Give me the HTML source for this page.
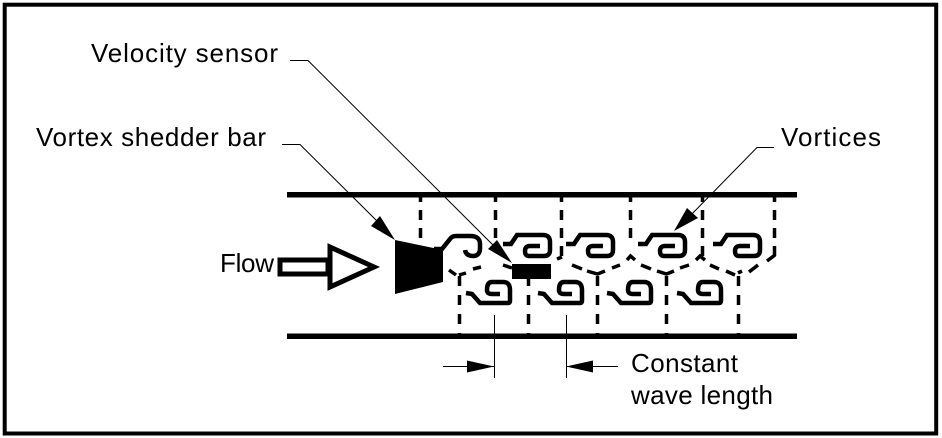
<!DOCTYPE html>
<html>
<head>
<meta charset="utf-8">
<style>
html,body{margin:0;padding:0;background:#fff;width:942px;height:438px;overflow:hidden}
svg{display:block}
text{font-family:"Liberation Sans",Arial,sans-serif;font-size:26px;fill:#000}
</style>
</head>
<body>
<svg width="942" height="438" viewBox="0 0 942 438" xmlns="http://www.w3.org/2000/svg">
<rect width="942" height="438" fill="#fff"/>
<rect x="4.7" y="4.7" width="931.5" height="428.8" fill="none" stroke="#000" stroke-width="4"/>

<text x="91" y="62" textLength="187" lengthAdjust="spacing">Velocity sensor</text>
<text x="36" y="146" textLength="230" lengthAdjust="spacing">Vortex shedder bar</text>
<text x="781" y="146" textLength="100" lengthAdjust="spacing">Vortices</text>
<text x="220" y="272" textLength="54" lengthAdjust="spacing">Flow</text>
<text x="631" y="372" textLength="107" lengthAdjust="spacing">Constant</text>
<text x="631" y="404" textLength="142" lengthAdjust="spacing">wave length</text>

<!-- pipe -->
<rect x="287" y="192" width="510" height="5.5" fill="#000"/>
<rect x="287" y="333.5" width="510" height="5.5" fill="#000"/>

<!-- dashed cell walls -->
<g fill="none" stroke="#000" stroke-width="3.5" stroke-dasharray="10 8" stroke-dashoffset="5">
<path d="M420.5 197V240"/>
<path d="M495.5 197V240"/>
<path d="M561.5 197V257"/>
<path d="M630.5 197V240"/>
<path d="M702.5 197V257"/>
<path d="M774.5 197V256"/>
</g>
<g fill="none" stroke="#000" stroke-width="3.5" stroke-dasharray="10 9" stroke-dashoffset="7">
<path d="M459.5 336V274"/>
<path d="M528.5 336V275"/>
<path d="M597.5 336V274"/>
<path d="M666.5 336V274"/>
<path d="M738.5 336V272"/>
</g>
<g fill="none" stroke="#000" stroke-width="3.5">
<path d="M775 255L767 261"/>
<path d="M758 265L749 272"/>
<path d="M738 273L742 271"/>
<path d="M557 259L562 257"/>
<path d="M572 265L582 269"/>
<path d="M587 271L597.5 274L605 271"/>
<path d="M612 268L620 265"/>
<path d="M627 260L630.5 256L635 260"/>
<path d="M641 265L651 269"/>
<path d="M657 271L666.5 274L674 271"/>
<path d="M680 268L689 265"/>
<path d="M696 260L700 256L705 260"/>
<path d="M710 265L719 269"/>
<path d="M726 271L735 275"/>
<path d="M449 270L456 275"/>
<path d="M459 275L466 273"/>
<path d="M473 269L481 267"/>
<path d="M503 265L512 268"/>
</g>

<!-- vortices -->
<g fill="none" stroke="#000" stroke-width="4.5">
<path d="M434 249H442L450 239Q452 236 456 236H470Q480 236 480 244V248Q480 256 473 256Q466 256 465 250"/>
<path id="t" d="M503 244H511L517 235H543Q550 235 550 242V250Q550 256 544 256H529Q525 256 525 251Q525 246 530 246H540"/>
<path d="M566 244H574L580 235H606Q613 235 613 242V250Q613 256 607 256H592Q588 256 588 251Q588 246 593 246H603"/>
<path d="M638 244H646L652 235H678Q685 235 685 242V250Q685 256 679 256H664Q660 256 660 251Q660 246 665 246H675"/>
<path d="M713 244H721L727 235H753Q760 235 760 242V250Q760 256 754 256H739Q735 256 735 251Q735 246 740 246H750"/>
<path d="M466 293L472 294L480 303H508Q510 303 510 301V290Q510 282 503 282H492Q487 282 487 290Q487 294 492 294H500"/>
<path d="M538 293L544 294L552 303H580Q582 303 582 301V290Q582 282 575 282H564Q559 282 559 290Q559 294 564 294H572"/>
<path d="M607 293L613 294L621 303H649Q651 303 651 301V290Q651 282 644 282H633Q628 282 628 290Q628 294 633 294H641"/>
<path d="M677 293L683 294L691 303H719Q721 303 721 301V290Q721 282 714 282H703Q698 282 698 290Q698 294 703 294H711"/>
</g>

<!-- shedder bar -->
<polygon points="395,240 443,250 443,282 395,294" fill="#000"/>

<!-- sensor -->
<rect x="512" y="264" width="39" height="15" fill="#000"/>

<!-- flow arrow -->
<rect x="280" y="260" width="48" height="14" fill="#fff" stroke="#000" stroke-width="5"/>
<polygon points="330,247 374,267 330,287" fill="#fff" stroke="#000" stroke-width="5"/>

<!-- leaders -->
<g fill="none" stroke="#000" stroke-width="1">
<path d="M290 60.5H308L500 252"/>
<path d="M282 144.5H300L384 228"/>
<path d="M774 147.5H757L688 218"/>
<path d="M494.5 315V378"/>
<path d="M566.5 315V378"/>
<path d="M443 366.5H494"/>
<path d="M567 366.5H618"/>
</g>
<g fill="#000">
<polygon points="512,263 488,249 497,240"/>
<polygon points="395,240 371,226 380,216"/>
<polygon points="674,231 687,208 698,218"/>
<polygon points="494,366.5 467,360.5 467,372.5"/>
<polygon points="566,366.5 593,360.5 593,372.5"/>
</g>
</svg>
</body>
</html>
